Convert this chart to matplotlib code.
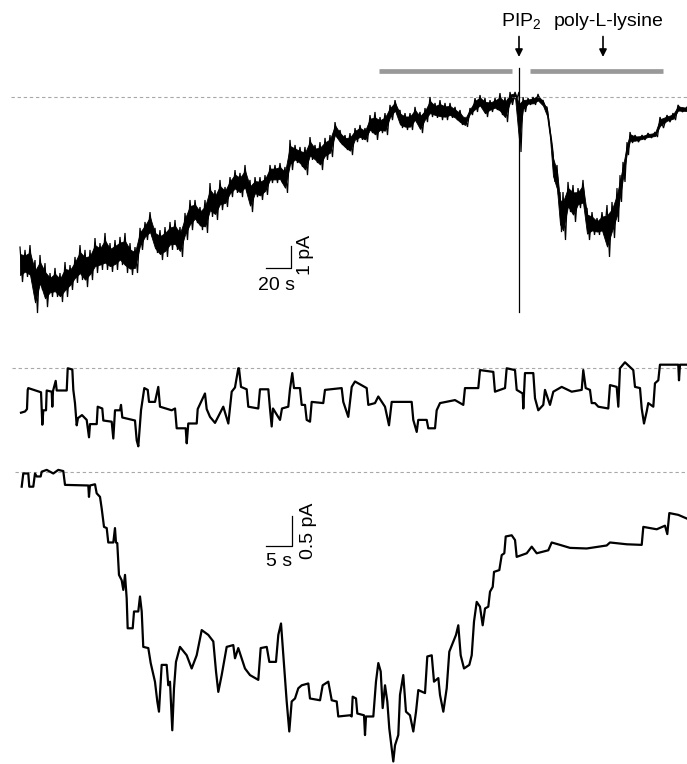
import numpy as np
import matplotlib
matplotlib.use("Agg")
import matplotlib.pyplot as plt

plt.rcParams['font.family'] = ['Liberation Sans', 'DejaVu Sans']
plt.rcParams['mathtext.default'] = 'regular'

W, H, DPI = 687, 764, 100

# ---------------- Trace 1: whole recording (s, pA; 0 = dashed reference) ----------
t1 = [0, 4, 8, 12, 16, 20, 24, 28, 32, 36,
      40, 44, 48, 52, 56, 60, 64, 68, 72, 76,
      80, 84, 88, 92, 96, 100, 104, 108, 112, 116,
      120, 124, 128, 132, 136, 140, 144, 148, 152, 156,
      160, 164, 168, 172, 176, 180, 184, 188, 192, 196,
      200, 204, 208, 212, 216, 220, 224, 228, 232, 236,
      240, 244, 248, 252, 256, 260, 264, 268, 272, 276,
      280, 284, 288, 292, 296, 300, 304, 308, 312, 316,
      320, 324, 328, 332, 336, 340, 344, 348, 352, 356,
      360, 364, 368, 372, 376, 380, 384, 388, 392, 396,
      399.2, 402.4, 406.4, 410.4, 414.4, 418.4, 421.6, 424, 426.4, 429.6,
      432, 434.4, 438.4, 442.4, 446.4, 450.4, 453.6, 457.6, 461.6, 465.6,
      469.6, 473.6, 477.6, 480, 482.4, 485.6, 488, 492, 497.6, 502.4,
      508, 512, 517.6, 522.4, 526.4, 533.6]
hi1 = [-6.82, -6.95, -6.73, -7.41, -7.18, -7.55, -8.0, -7.77, -8.0, -7.5,
       -7.64, -7.27, -6.73, -6.95, -6.95, -6.41, -6.64, -6.18, -6.64, -6.5,
       -6.36, -6.18, -6.64, -6.82, -5.95, -5.68, -5.23, -5.95, -6.05, -5.91,
       -5.68, -5.59, -5.91, -5.27, -4.68, -4.68, -5.0, -4.68, -3.91, -4.23,
       -3.77, -4.09, -3.64, -3.32, -3.45, -3.09, -3.77, -3.64, -3.64, -3.55,
       -3.09, -3.09, -3.0, -3.18, -1.95, -2.18, -2.27, -2.27, -1.82, -2.18,
       -2.05, -1.86, -1.73, -1.14, -1.5, -1.73, -1.64, -1.41, -1.27, -1.41,
       -0.82, -0.68, -0.91, -0.73, -0.36, -0.14, -0.59, -0.73, -0.73, -0.45,
       -0.68, -0.5, 0.0, -0.27, -0.14, -0.27, -0.27, -0.45, -0.59, -0.91,
       -0.5, -0.05, 0.09, -0.05, -0.14, -0.05, 0.18, 0.0, 0.23, 0.23,
       0.23, 0.0, -0.05, 0.0, 0.14, -0.14, -0.45, -1.5, -2.5, -3.09,
       -4.32, -4.32, -3.86, -4.0, -4.14, -3.77, -5.05, -5.23, -5.5, -5.23,
       -4.91, -4.77, -4.14, -3.55, -2.95, -2.05, -1.59, -1.73, -1.73, -1.64,
       -1.59, -0.91, -0.82, -0.73, -0.36, -0.45]
lo1 = [-8.41, -8.18, -8.41, -9.82, -8.77, -9.55, -9.09, -9.09, -9.32, -9.09,
       -8.77, -8.45, -8.32, -8.64, -8.32, -8.0, -7.86, -7.86, -7.95, -7.86,
       -7.64, -8.0, -8.09, -8.0, -6.95, -6.5, -6.36, -7.09, -7.41, -7.27,
       -6.95, -6.95, -7.27, -6.5, -6.05, -5.73, -6.05, -6.18, -5.45, -5.59,
       -5.14, -5.0, -4.55, -4.36, -4.55, -4.36, -5.23, -4.55, -4.68, -4.45,
       -3.91, -3.91, -3.91, -4.36, -3.32, -3.0, -3.18, -3.55, -2.86, -3.0,
       -3.32, -2.86, -2.73, -1.86, -2.18, -2.41, -2.64, -2.05, -1.95, -2.05,
       -1.64, -1.95, -1.64, -1.73, -1.05, -0.73, -1.41, -1.5, -1.5, -1.18,
       -1.64, -1.14, -0.91, -0.95, -1.05, -1.05, -0.95, -1.05, -1.27, -1.36,
       -0.82, -0.68, -0.5, -0.91, -0.68, -0.59, -0.82, -1.14, -0.36, -0.05,
       -2.5, -0.68, -0.36, -0.36, -0.23, -0.45, -0.95, -1.95, -3.86, -4.45,
       -6.14, -6.5, -5.23, -5.68, -5.05, -5.05, -6.5, -6.27, -6.27, -6.27,
       -7.27, -6.41, -5.68, -4.77, -3.86, -2.64, -2.09, -2.05, -1.95, -1.86,
       -1.82, -1.41, -1.14, -1.05, -0.68, -0.68]

pip2_time = 399.2            # application artifact (vertical line)
artifact_range = (1.32, -9.77)
bar_periods = [(287.2, 393.6), (408.0, 514.4)]
bar_level = 1.2
arrow_times = [399.2, 466.4]
arrow_labels = ["PIP$_2$", "poly-L-lysine"]
label_times = [400.8, 471.2]

# ---------------- Trace 2: control single-channel segment (s, pA) ----------------
t2 = [0, 0.77, 1.15, 1.29, 1.40, 3.85, 3.98, 4.10, 4.29, 4.81,
      4.94, 5.90, 6.02, 6.15, 6.67, 6.87, 8.79, 8.98, 9.87, 10.06,
      10.38, 10.71, 10.96, 11.73, 12.63, 13.08, 13.27, 14.56, 14.75, 15.63,
      15.83, 17.44, 17.75, 18.08, 19.04, 19.23, 19.48, 21.92, 22.25, 22.56,
      23.08, 23.71, 24.37, 24.62, 25.77, 26.40, 26.73, 28.98, 29.62, 29.94,
      31.67, 31.87, 32.17, 33.79, 33.98, 35.38, 35.71, 36.35, 37.31, 38.90,
      39.87, 40.52, 41.15, 41.79, 41.92, 42.31, 43.40, 43.71, 45.63, 45.96,
      47.56, 47.88, 48.21, 48.46, 49.81, 50.19, 51.40, 51.73, 52.17, 52.50,
      53.65, 53.98, 54.62, 54.94, 55.58, 55.90, 58.13, 58.46, 61.67, 61.98,
      62.94, 63.27, 63.60, 64.23, 66.48, 66.79, 68.08, 68.71, 70.0, 70.77,
      71.29, 75.13, 75.44, 76.10, 76.40, 78.02, 78.33, 79.62, 79.94, 80.58,
      83.46, 85.06, 85.38, 87.94, 88.27, 90.83, 91.15, 93.08, 93.40, 95.0,
      95.33, 96.48, 96.60, 96.92, 98.52, 98.85, 99.48, 100.44, 100.77, 101.73,
      102.37, 103.98, 105.90, 107.83, 108.13, 108.60, 109.42, 109.75, 110.38, 111.02,
      112.94, 113.27, 114.56, 114.87, 115.19, 116.15, 117.75, 118.08, 119.04, 119.37,
      119.81, 120.33, 120.63, 121.60, 121.92, 122.56, 122.88, 126.40, 126.54, 126.73,
      128.02]
i2 = [-0.74, -0.72, -0.68, -0.36, -0.33, -0.40, -0.70, -0.94, -0.70, -0.70,
      -0.37, -0.39, -0.64, -0.38, -0.21, -0.37, -0.37, 0.0, -0.02, -0.36,
      -0.58, -0.95, -0.83, -0.78, -0.86, -1.15, -0.93, -0.93, -0.64, -0.67,
      -0.87, -0.89, -1.17, -0.70, -0.70, -0.61, -0.82, -0.87, -1.20, -1.30,
      -0.70, -0.33, -0.36, -0.56, -0.56, -0.31, -0.64, -0.70, -0.67, -1.00,
      -1.00, -1.25, -0.92, -0.92, -0.68, -0.42, -0.68, -0.81, -0.91, -0.64,
      -0.92, -0.39, -0.32, 0.0, 0.0, -0.31, -0.35, -0.64, -0.67, -0.35,
      -0.35, -0.67, -0.97, -0.67, -0.86, -0.67, -0.64, -0.35, -0.08, -0.33,
      -0.33, -0.61, -0.61, -0.86, -0.89, -0.56, -0.58, -0.36, -0.33, -0.56,
      -0.81, -0.56, -0.31, -0.22, -0.33, -0.61, -0.58, -0.47, -0.64, -0.95,
      -0.56, -0.56, -0.86, -1.06, -0.86, -0.86, -1.00, -1.00, -0.70, -0.58,
      -0.53, -0.61, -0.33, -0.33, -0.03, -0.06, -0.39, -0.33, 0.0, -0.03,
      -0.36, -0.42, -0.67, -0.08, -0.08, -0.50, -0.70, -0.61, -0.36, -0.61,
      -0.39, -0.31, -0.39, -0.36, -0.03, -0.33, -0.36, -0.58, -0.58, -0.64,
      -0.67, -0.28, -0.31, -0.64, 0.0, 0.10, -0.03, -0.31, -0.33, -0.67,
      -0.92, -0.72, -0.58, -0.64, -0.25, -0.20, 0.06, 0.06, -0.20, 0.06,
      0.06]

# ---------------- Trace 3: poly-L-lysine segment (s, pA) ----------------
t3 = [0, 0.31, 1.27, 1.46, 2.23, 2.56, 2.88, 3.65, 3.85, 4.81,
      6.08, 7.04, 8.0, 8.33, 12.81, 12.94, 13.13, 14.10, 14.42, 15.06,
      15.38, 15.83, 16.35, 16.65, 17.62, 17.94, 18.13, 18.38, 18.71, 19.23,
      19.54, 19.87, 20.19, 20.38, 21.35, 21.60, 22.42, 22.75, 23.08, 23.38,
      24.35, 24.81, 25.63, 26.08, 26.40, 26.92, 27.88, 28.19, 28.52, 28.96,
      29.29, 29.67, 30.44, 31.73, 32.69, 33.65, 34.62, 35.88, 36.85, 37.37,
      37.81, 38.46, 39.42, 40.69, 41.02, 41.65, 42.94, 43.90, 45.50, 45.96,
      47.12, 47.62, 48.90, 49.35, 49.87, 50.44, 50.96, 51.46, 51.92, 52.56,
      53.19, 53.85, 55.12, 55.44, 57.37, 57.88, 58.96, 59.62, 60.58, 60.88,
      63.13, 63.46, 63.65, 64.29, 64.54, 65.83, 66.02, 66.21, 67.62, 68.13,
      68.58, 69.04, 69.42, 69.87, 70.31, 70.69, 71.15, 71.46, 71.79, 72.42,
      72.75, 73.38, 73.90, 74.67, 75.31, 75.83, 76.27, 77.56, 78.0, 78.85,
      79.29, 80.12, 80.44, 81.08, 81.73, 82.23, 83.0, 83.52, 83.96, 84.42,
      85.06, 86.08, 86.54, 86.98, 87.50, 88.13, 88.65, 89.10, 89.73, 90.06,
      90.58, 90.83, 91.85, 92.31, 92.81, 93.08, 94.23, 94.87, 95.19, 97.12,
      98.08, 99.04, 101.27, 101.92, 103.52, 105.44, 108.65, 112.5, 113.13, 116.35,
      119.23, 119.54, 122.12, 123.71, 124.15, 124.54, 126.27, 127.88]
i3 = [-0.25, -0.03, -0.03, -0.25, -0.25, -0.03, -0.08, -0.08, 0.0, 0.03,
      -0.03, 0.03, 0.01, -0.22, -0.23, -0.42, -0.23, -0.21, -0.36, -0.42,
      -0.61, -0.92, -0.94, -1.18, -1.18, -0.94, -1.18, -1.19, -1.72, -1.81,
      -1.97, -1.72, -2.11, -2.61, -2.61, -2.33, -2.33, -2.08, -2.33, -2.92,
      -2.94, -3.19, -3.50, -3.83, -4.0, -3.22, -3.22, -3.56, -3.50, -4.31,
      -3.61, -3.17, -2.92, -3.06, -3.28, -3.06, -2.64, -2.72, -2.83, -3.33,
      -3.67, -3.39, -2.92, -2.89, -3.11, -2.94, -3.28, -3.39, -3.47, -2.94,
      -2.92, -3.17, -3.17, -2.72, -2.53, -3.22, -3.83, -4.33, -3.83, -3.78,
      -3.61, -3.56, -3.53, -3.78, -3.81, -3.56, -3.50, -3.81, -3.83, -4.08,
      -4.06, -4.08, -3.75, -3.78, -4.03, -4.06, -4.39, -4.08, -4.08, -3.50,
      -3.19, -3.33, -3.94, -3.56, -3.83, -4.28, -4.61, -4.83, -4.56, -4.39,
      -3.72, -3.39, -4.0, -4.06, -4.33, -4.0, -3.64, -3.69, -3.08, -3.06,
      -3.50, -3.44, -3.72, -4.0, -3.61, -3.0, -2.83, -2.72, -2.56, -3.06,
      -3.28, -3.22, -3.06, -2.50, -2.17, -2.25, -2.56, -2.28, -2.25, -2.0,
      -1.92, -1.67, -1.64, -1.39, -1.36, -1.08, -1.06, -1.14, -1.42, -1.36,
      -1.25, -1.36, -1.31, -1.18, -1.22, -1.27, -1.28, -1.23, -1.18, -1.21,
      -1.22, -0.92, -0.96, -0.90, -1.04, -0.69, -0.72, -0.78]

# ---------------- figure ----------------
fig = plt.figure(figsize=(W / DPI, H / DPI), dpi=DPI)


def band_axes(ytop, ybot, xlim, ylim):
    ax = fig.add_axes([0, 1 - ybot / H, 1, (ybot - ytop) / H])
    ax.set_xlim(*xlim)
    ax.set_ylim(*ylim)
    ax.axis('off')
    return ax


dash_kw = dict(color='#a8a8a8', lw=0.8, linestyle=(0, (3, 2.5)))
trace_color = 'black'

# ---- trace 1 ----
ax1 = band_axes(0, 330, (-16, 533.6), (-10.59, 4.41))
t1a = np.asarray(t1)
hi1a = np.asarray(hi1)
lo1a = np.asarray(lo1)
tmid = np.append((t1a[:-1] + t1a[1:]) / 2, t1a[-1] + 1.5)
tz = np.column_stack([t1a, tmid]).ravel()
yz = np.column_stack([hi1a, lo1a]).ravel()
ax1.plot([-7.2, 533.6], [0, 0], **dash_kw)
# dense core of the noisy band, then the min/max excursions on top
ax1.fill_between(t1a, hi1a * 0.8 + lo1a * 0.2, hi1a * 0.2 + lo1a * 0.8,
                 color=trace_color, lw=0.6)
ax1.plot(tz, yz, color=trace_color, lw=0.9, solid_joinstyle='miter')
ax1.plot([pip2_time, pip2_time], artifact_range, color='black', lw=0.9)
for a, b in bar_periods:
    ax1.plot([a, b], [bar_level, bar_level], color='#999999', lw=3.4,
             solid_capstyle='butt')
for ta in arrow_times:
    ax1.annotate('', xy=(ta, 1.82), xytext=(ta, 2.75),
                 arrowprops=dict(arrowstyle='-|>', color='black', lw=1.2,
                                 mutation_scale=11, shrinkA=0, shrinkB=0))
for tl, lab in zip(label_times, arrow_labels):
    ax1.text(tl, 3.23, lab, ha='center', va='baseline', fontsize=14)
# scale bar 20 s / 1 pA
ax1.plot([196.8, 216.8, 216.8], [-7.77, -7.77, -6.77], color='black', lw=0.9)
ax1.text(205.6, -8.2, '20 s', ha='center', va='top', fontsize=14)
ax1.text(228.5, -7.2, '1 pA', ha='center', va='center', rotation=90, fontsize=14)

# ---- trace 2 ----
ax2 = band_axes(330, 455, (-4.04, 128.08), (-1.445, 0.638))
ax2.plot([-1.73, 128.08], [0, 0], **dash_kw)
ax2.plot(t2, i2, color=trace_color, lw=1.6)

# ---- trace 3 ----
ax3 = band_axes(455, 764, (-4.17, 127.94), (-4.872, 0.278))
ax3.plot([-1.29, 127.94], [0, 0], **dash_kw)
ax3.plot(t3, i3, color=trace_color, lw=1.6)
# scale bar 5 s / 0.5 pA
ax3.plot([46.98, 51.98, 51.98], [-1.238, -1.238, -0.738], color='black', lw=0.9)
ax3.text(49.4, -1.35, '5 s', ha='center', va='top', fontsize=14)
ax3.text(55.2, -0.99, '0.5 pA', ha='center', va='center', rotation=90, fontsize=14)

fig.savefig('out.png', dpi=DPI)
